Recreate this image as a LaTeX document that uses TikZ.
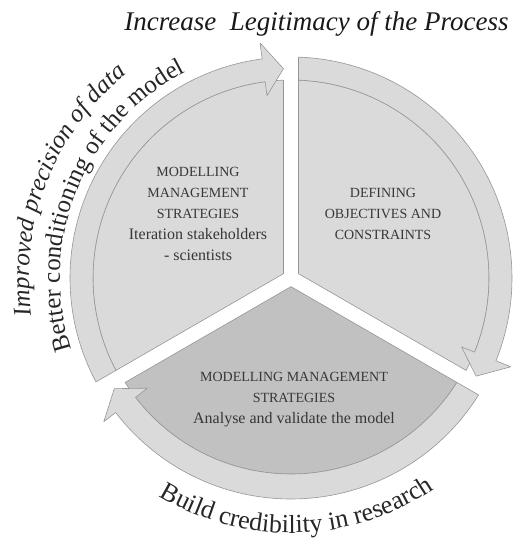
\documentclass[tikz,border=0pt]{standalone}
\usepackage{fontspec}
\setmainfont{Liberation Serif}
\usetikzlibrary{decorations.text}
\definecolor{ringgray}{RGB}{218,218,218}
\definecolor{coregray}{RGB}{193,193,193}
\definecolor{edgegray}{RGB}{150,150,150}
\definecolor{inkgray}{RGB}{55,55,55}

\begin{document}
\begin{tikzpicture}[x=1pt, y=1pt,
        sector/.style={fill=ringgray, draw=edgegray, line width=0.6pt, line join=round},
        core/.style={sector, fill=coregray},
        blocktext/.style={align=center, text=inkgray, font=\fontsize{14}{21}\selectfont},
        arctext/.style={decorate, decoration={text along path, text align=center, text color=black!85}},
    ]
    \useasboundingbox (0,0) rectangle (516,538);
    \coordinate (C) at (291,260);
    \begin{scope}[shift={(C)}]
        \path[sector] (150:8.66) -- (92.17:198) arc[start angle=92.17, end angle=207.83, radius=198] -- cycle;
        \path[sector] (208.06:221) arc[start angle=208.06, end angle=97.5, radius=221]
            -- (97.5:237) -- (92.05:209.5) -- (97.5:184)
            -- (97.5:198) arc[start angle=97.5, end angle=207.83, radius=198] -- cycle;
        \path[sector] (30:8.66) -- (87.83:198) arc[start angle=87.83, end angle=-27.83, radius=198] -- cycle;
        \path[sector] (88.06:221) arc[start angle=88.06, end angle=-22, radius=221]
            -- (-22:237) -- (-27.95:209.5) -- (-22:184)
            -- (-22:198) arc[start angle=-22, end angle=87.83, radius=198] -- cycle;
        \path[core] (270:8.66) -- (212.19:196) arc[start angle=212.19, end angle=327.81, radius=196] -- cycle;
        \path[sector] (328.06:221) arc[start angle=328.06, end angle=217.5, radius=221]
            -- (217.5:236) -- (212.06:208.5) -- (217.5:181)
            -- (217.5:196) arc[start angle=217.5, end angle=327.81, radius=196] -- cycle;
        \path[arctext, decoration={text={|\fontsize{25}{30}\selectfont\itshape|Improved precision of data}}]
            (209:262) arc[start angle=209, end angle=108, radius=262];
        \path[arctext, decoration={text={|\fontsize{25}{30}\selectfont|Better conditioning of the model}}]
            (208:231) arc[start angle=208, end angle=107, radius=231];
        \path[arctext, decoration={text={|\fontsize{26}{30}\selectfont|Build credibility in research}}]
            (221.5:255) arc[start angle=221.5, end angle=321.5, radius=255];
    \end{scope}
    \node[anchor=base, font=\fontsize{27}{32}\selectfont\itshape, text=black!90] (title) at (316.5,507) {Increase~~Legitimacy of the Process};
    \node[blocktext] (strategies) at (198,324) {MODELLING\\MANAGEMENT\\STRATEGIES\\{\fontsize{16}{21}\selectfont Iteration stakeholders}\\{\fontsize{16}{21}\selectfont - scientists}};
    \node[blocktext] (objectives) at (383,324) {DEFINING\\OBJECTIVES AND\\CONSTRAINTS};
    \node[blocktext] (validate) at (294,138) {MODELLING MANAGEMENT\\STRATEGIES\\{\fontsize{16}{21}\selectfont Analyse and validate the model}};
\end{tikzpicture}
\end{document}
